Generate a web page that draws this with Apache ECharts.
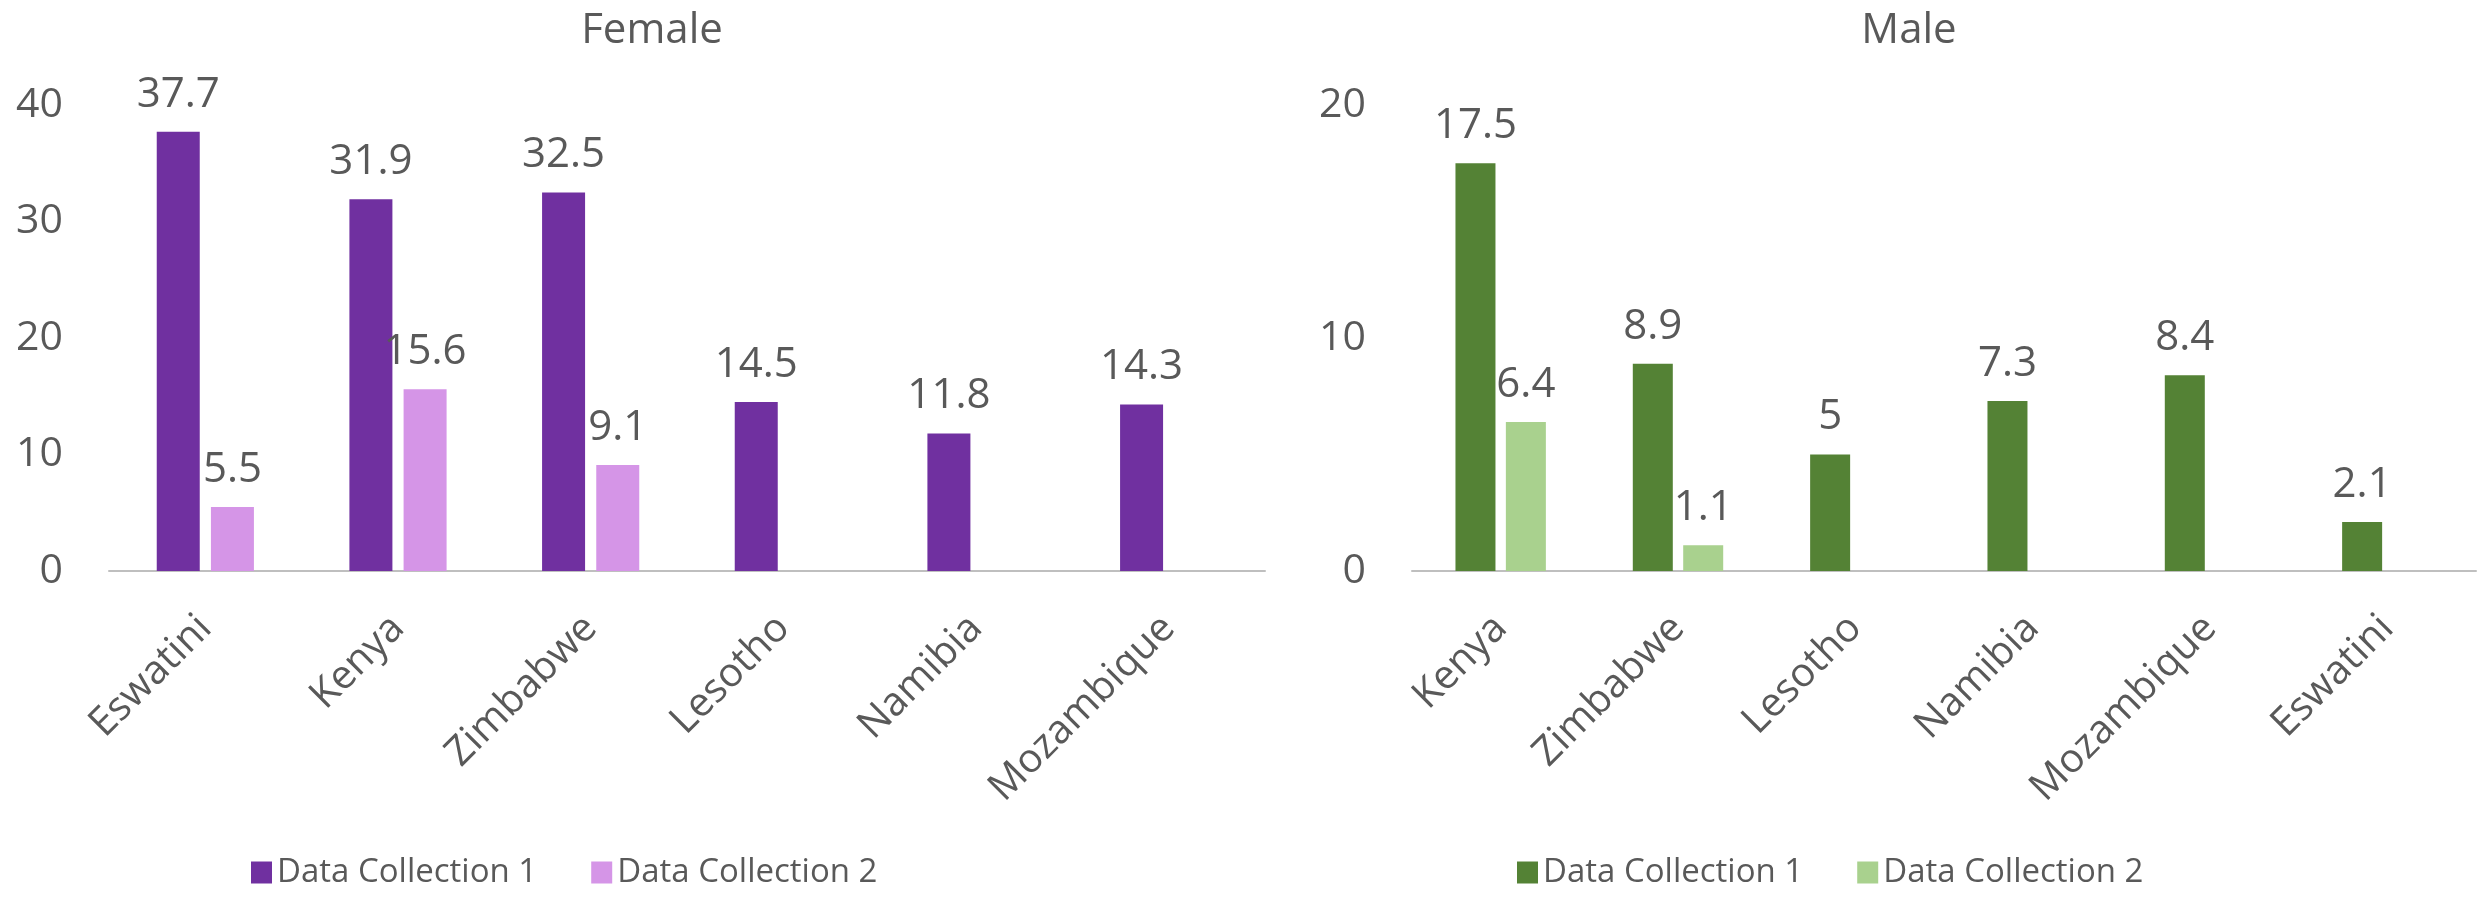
<!DOCTYPE html>
<html>
<head>
<meta charset="utf-8">
<script src="https://cdn.jsdelivr.net/npm/echarts@6/dist/echarts.min.js"></script>
<style>
  html, body { margin: 0; padding: 0; background: #fff; }
  #chart { width: 2481px; height: 898px; }
</style>
</head>
<body>
<div id="chart"></div>
<script>
// Female panel
const femaleCountries = ['Eswatini', 'Kenya', 'Zimbabwe', 'Lesotho', 'Namibia', 'Mozambique'];
const femaleCollection1 = [37.7, 31.9, 32.5, 14.5, 11.8, 14.3];
const femaleCollection2 = [5.5, 15.6, 9.1, null, null, null];

// Male panel
const maleCountries = ['Kenya', 'Zimbabwe', 'Lesotho', 'Namibia', 'Mozambique', 'Eswatini'];
const maleCollection1 = [17.5, 8.9, 5, 7.3, 8.4, 2.1];
const maleCollection2 = [6.4, 1.1, null, null, null, null];

const seriesNames = ['Data Collection 1', 'Data Collection 2'];
const panelTitles = ['Female', 'Male'];

const FONT = '"Open Sans", "Noto Sans", sans-serif';
const TEXT = '#595959';
const colors = {
  female: ['#7030A0', '#D595E7'],
  male: ['#548235', '#A9D18E']
};

function valueAxis(idx, max) {
  return {
    type: 'value', gridIndex: idx, min: 0, max: max, interval: 10,
    axisLine: { show: false }, axisTick: { show: false }, splitLine: { show: false },
    axisLabel: { color: TEXT, fontFamily: FONT, fontSize: 41, margin: 46 }
  };
}
function categoryAxis(idx, cats) {
  return {
    type: 'category', gridIndex: idx, data: cats,
    axisLine: { lineStyle: { color: '#BFBFBF', width: 2 } },
    axisTick: { show: false },
    axisLabel: { color: TEXT, fontFamily: FONT, fontSize: 40, rotate: 45, margin: 51, interval: 0 }
  };
}
function barSeries(name, idx, data, color, width) {
  return {
    type: 'bar', name: name, xAxisIndex: idx, yAxisIndex: idx, data: data,
    barWidth: width, barGap: '26%',
    itemStyle: { color: color },
    label: {
      show: true, position: 'top', distance: 16,
      color: TEXT, fontFamily: FONT, fontSize: 42,
      formatter: p => p.value == null ? '' : String(p.value)
    }
  };
}

const chart = echarts.init(document.getElementById('chart'));
chart.setOption({
  backgroundColor: '#fff',
  animation: false,
  title: [
    { text: panelTitles[0], left: 647, top: 5, textAlign: 'center',
      textStyle: { color: TEXT, fontFamily: FONT, fontSize: 42, fontWeight: 'normal' } },
    { text: panelTitles[1], left: 1904, top: 5, textAlign: 'center',
      textStyle: { color: TEXT, fontFamily: FONT, fontSize: 42, fontWeight: 'normal' } }
  ],
  legend: [
    { left: 246, top: 851, icon: 'rect', itemWidth: 21, itemHeight: 22, itemGap: 54,
      textStyle: { color: TEXT, fontFamily: FONT, fontSize: 33 },
      data: seriesNames.map((n, i) => ({ name: n, itemStyle: { color: colors.female[i] } })) },
    { left: 1512, top: 851, icon: 'rect', itemWidth: 21, itemHeight: 22, itemGap: 54,
      textStyle: { color: TEXT, fontFamily: FONT, fontSize: 33 },
      data: seriesNames.map((n, i) => ({ name: n, itemStyle: { color: colors.male[i] } })) }
  ],
  grid: [
    { left: 109, right: 1216, top: 105, bottom: 327 },
    { left: 1412, right: 5, top: 105, bottom: 327 }
  ],
  xAxis: [categoryAxis(0, femaleCountries), categoryAxis(1, maleCountries)],
  yAxis: [valueAxis(0, 40), valueAxis(1, 20)],
  series: [
    barSeries(seriesNames[0], 0, femaleCollection1, colors.female[0], 43),
    barSeries(seriesNames[1], 0, femaleCollection2, colors.female[1], 43),
    barSeries(seriesNames[0], 1, maleCollection1, colors.male[0], 40),
    barSeries(seriesNames[1], 1, maleCollection2, colors.male[1], 40)
  ]
});
</script>
</body>
</html>
